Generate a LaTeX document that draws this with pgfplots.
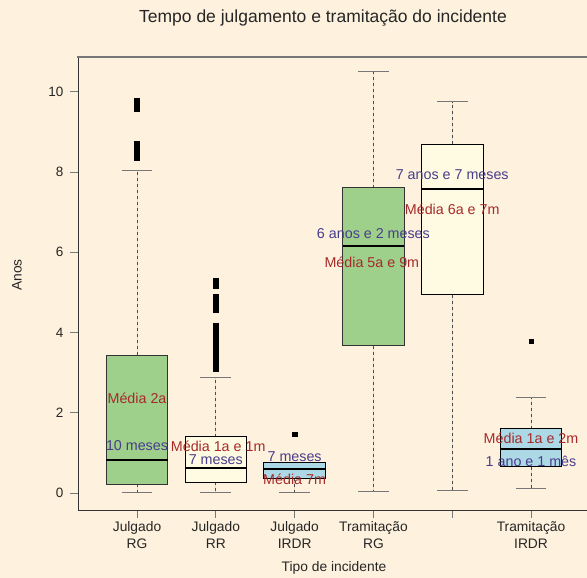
\documentclass[border=0pt]{standalone}
\usepackage{fontspec}
\setmainfont{Liberation Sans}
\usepackage{pgfplots}
\pgfplotsset{compat=1.18}
\usepgfplotslibrary{statistics}
\definecolor{bg}{HTML}{FEF2DE}
\definecolor{bgreen}{HTML}{9ECF8B}
\definecolor{byellow}{HTML}{FFFBE3}
\definecolor{bblue}{HTML}{ADD8E6}
\definecolor{tred}{HTML}{A52A2A}
\definecolor{tblue}{HTML}{483D8B}
\definecolor{axgray}{HTML}{333333}
\definecolor{tickgray}{HTML}{777777}
\begin{document}
\begin{tikzpicture}
\useasboundingbox (-78bp,-68bp) rectangle (509bp,510bp);
\fill[bg] (-78bp,-68bp) rectangle (509bp,510bp);
\begin{axis}[
  at={(0,0)}, anchor=south west,
  scale only axis, width=510bp, height=453bp,
  xmin=0.251, xmax=6.723, ymin=-0.424, ymax=10.87,
  axis line style={axgray, line width=0.9pt},
  xtick={1,2,3,4,5,6},
  xticklabels={{Julgado\\RG},{Julgado\\RR},{Julgado\\IRDR},{Tramitação\\RG},{},{Tramitação\\IRDR}},
  ytick={0,2,4,6,8,10},
  tick align=outside, major tick length=8bp,
  tick style={tickgray, line width=0.9pt},
  xtick pos=bottom, ytick pos=left,
  xticklabel style={align=center, font=\fontsize{13.8bp}{17bp}\selectfont, text=black!85},
  yticklabel style={font=\fontsize{13.5bp}{16bp}\selectfont, text=black!85, xshift=-3bp},
  /pgf/number format/assume math mode=true,
  boxplot/draw direction=y,
  boxplot/every median/.style={line width=2.4pt, black},
  boxplot/every whisker/.style={dash pattern=on 3bp off 3bp, line width=0.9pt, black!70},
  boxplot/every box/.style={line width=0.9pt},
  clip=false,
]
% boxes
\addplot[draw=black!80, fill=bgreen, boxplot prepared={draw position=1, median=0.82, upper quartile=3.44, lower quartile=0.22, upper whisker=8.03, lower whisker=0.02, box extend=0.78, whisker extend=0}] coordinates {};
\addplot[draw=black, fill=byellow, boxplot prepared={draw position=2, median=0.62, upper quartile=1.40, lower quartile=0.27, upper whisker=2.87, lower whisker=0.02, box extend=0.78, whisker extend=0}] coordinates {};
\addplot[draw=black, fill=bblue, boxplot prepared={draw position=3, median=0.60, upper quartile=0.75, lower quartile=0.37, upper whisker=0.75, lower whisker=0.0, box extend=0.78, whisker extend=0}] coordinates {};
\addplot[draw=black!80, fill=bgreen, boxplot prepared={draw position=4, median=6.16, upper quartile=7.61, lower quartile=3.67, upper whisker=10.50, lower whisker=0.03, box extend=0.78, whisker extend=0}] coordinates {};
\addplot[draw=black, fill=byellow, boxplot prepared={draw position=5, median=7.58, upper quartile=8.70, lower quartile=4.94, upper whisker=9.75, lower whisker=0.05, box extend=0.78, whisker extend=0}] coordinates {};
\addplot[draw=black, fill=bblue, boxplot prepared={draw position=6, median=1.10, upper quartile=1.60, lower quartile=0.65, upper whisker=2.37, lower whisker=0.10, box extend=0.78, whisker extend=0}] coordinates {};
% whisker caps
\addplot[tickgray, line width=1pt] coordinates {(0.805,8.03) (1.195,8.03)};
\addplot[tickgray, line width=1pt] coordinates {(0.805,0.02) (1.195,0.02)};
\addplot[tickgray, line width=1pt] coordinates {(1.805,2.87) (2.195,2.87)};
\addplot[tickgray, line width=1pt] coordinates {(1.805,0.02) (2.195,0.02)};
\addplot[tickgray, line width=1pt] coordinates {(2.805,0.0) (3.195,0.0)};
\addplot[tickgray, line width=1pt] coordinates {(3.805,10.50) (4.195,10.50)};
\addplot[tickgray, line width=1pt] coordinates {(3.805,0.03) (4.195,0.03)};
\addplot[tickgray, line width=1pt] coordinates {(4.805,9.75) (5.195,9.75)};
\addplot[tickgray, line width=1pt] coordinates {(4.805,0.05) (5.195,0.05)};
\addplot[tickgray, line width=1pt] coordinates {(5.805,2.37) (6.195,2.37)};
\addplot[tickgray, line width=1pt] coordinates {(5.805,0.10) (6.195,0.10)};
% outliers
\addplot[only marks, mark=square*, mark size=2.6bp, black] coordinates {
(1,9.78) (1,9.73) (1,9.68) (1,9.63) (1,9.58)
(1,8.70) (1,8.65) (1,8.60) (1,8.55) (1,8.50) (1,8.45) (1,8.40) (1,8.35)
};
\addplot[only marks, mark=square*, mark size=2.6bp, black] coordinates {
(2,5.30) (2,5.25) (2,5.20) (2,5.16)
(2,4.88) (2,4.83) (2,4.78) (2,4.73) (2,4.68) (2,4.63) (2,4.58)
(2,4.18) (2,4.13) (2,4.06)
(2,3.93) (2,3.88) (2,3.83) (2,3.78) (2,3.73) (2,3.68) (2,3.63) (2,3.58) (2,3.53) (2,3.48) (2,3.43)
(2,3.29) (2,3.24) (2,3.19) (2,3.14) (2,3.10)
};
\addplot[only marks, mark=square*, mark size=2.2bp, black] coordinates {(3,1.47)};
\addplot[only marks, mark=square*, mark size=2.2bp, black] coordinates {(6,3.79)};
% labels
\begin{scope}[every node/.style={font=\fontsize{14.3bp}{16bp}\selectfont, inner sep=0pt}]
\node[text=tred] at (axis cs:1,2.37) {Média 2a};
\node[text=tblue] at (axis cs:1,1.17) {10 meses};
\node[text=tred] at (axis cs:2.03,1.17) {Média 1a e 1m};
\node[text=tblue] at (axis cs:2,0.82) {7 meses};
\node[text=tblue] at (axis cs:3,0.90) {7 meses};
\node[text=tred] at (axis cs:3,0.35) {Média 7m};
\node[text=tblue] at (axis cs:4,6.48) {6 anos e 2 meses};
\node[text=tred] at (axis cs:3.98,5.76) {Média 5a e 9m};
\node[text=tblue] at (axis cs:5,7.93) {7 anos e 7 meses};
\node[text=tred] at (axis cs:5,7.08) {Média 6a e 7m};
\node[text=tred] at (axis cs:6,1.37) {Média 1a e 2m};
\node[text=tblue] at (axis cs:6,0.80) {1 ano e 1 mês};
\end{scope}
\end{axis}
\draw[tickgray, line width=1.2pt] (-1bp,453bp) -- (510bp,453bp);
\node[font=\fontsize{17.5bp}{20bp}\selectfont, text=black!85] at (245bp,492bp) {Tempo de julgamento e tramitação do incidente};
\node[font=\fontsize{13.8bp}{16bp}\selectfont, text=black!85] at (256bp,-58bp) {Tipo de incidente};
\node[font=\fontsize{13.8bp}{16bp}\selectfont, text=black!85, rotate=90] at (-61bp,235bp) {Anos};
\end{tikzpicture}
\end{document}
